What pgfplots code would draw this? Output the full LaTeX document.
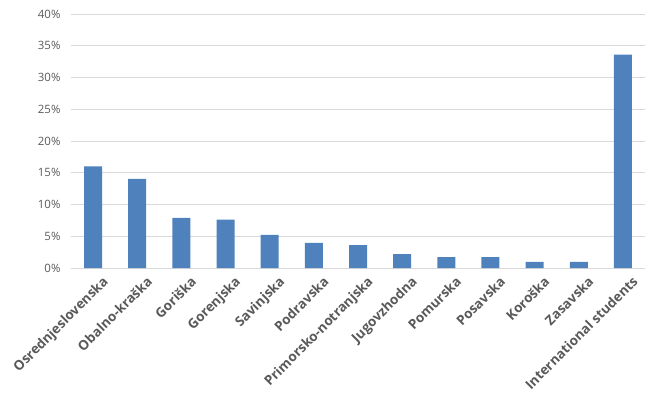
\documentclass[border=0pt]{standalone}
\usepackage{fontspec}
\setmainfont{Open Sans}
\usepackage{pgfplots}
\pgfplotsset{compat=1.18}
\definecolor{barblue}{HTML}{4F81BD}
\definecolor{gridgray}{HTML}{D9D9D9}
\definecolor{txtgray}{HTML}{595959}
\begin{document}
\begin{tikzpicture}[x=1bp,y=1bp]
\begin{axis}[
  at={(0,0)}, anchor=south west,
  scale only axis, width=574bp, height=254bp,
  xmin=-0.5, xmax=12.5, ymin=0, ymax=40,
  xtick={0,...,12},
  xticklabels={Osrednjeslovenska,Obalno-kraška,Goriška,Gorenjska,Savinjska,Podravska,Primorsko-notranjska,Jugovzhodna,Pomurska,Posavska,Koroška,Zasavska,International students},
  ytick={0,5,...,40},
  yticklabel={\pgfmathprintnumber{\tick}\%},
  /pgf/number format/assume math mode=true,
  ymajorgrids, grid style={gridgray, line width=0.75bp},
  axis x line*=bottom, axis y line*=left,
  x axis line style={gridgray, line width=0.75bp, -},
  y axis line style={draw=none},
  major tick length=0pt,
  ybar, bar width=18bp,
  x tick label style={rotate=45, anchor=north east, font=\bfseries\fontsize{13.5}{15}\selectfont, text=txtgray, inner sep=1bp, yshift=-10bp, xshift=2bp},
  y tick label style={font=\fontsize{11.5}{13}\selectfont, text=txtgray, xshift=-7bp},
]
\addplot[fill=barblue, draw=none] coordinates {
 (0,16.0) (1,14.05) (2,7.9) (3,7.6) (4,5.2) (5,3.95) (6,3.6) (7,2.2) (8,1.7) (9,1.7) (10,0.95) (11,0.95) (12,33.6)
};
\end{axis}
\pgfresetboundingbox
\useasboundingbox (-71bp,-127bp) rectangle (588bp,268bp);
\end{tikzpicture}
\end{document}
